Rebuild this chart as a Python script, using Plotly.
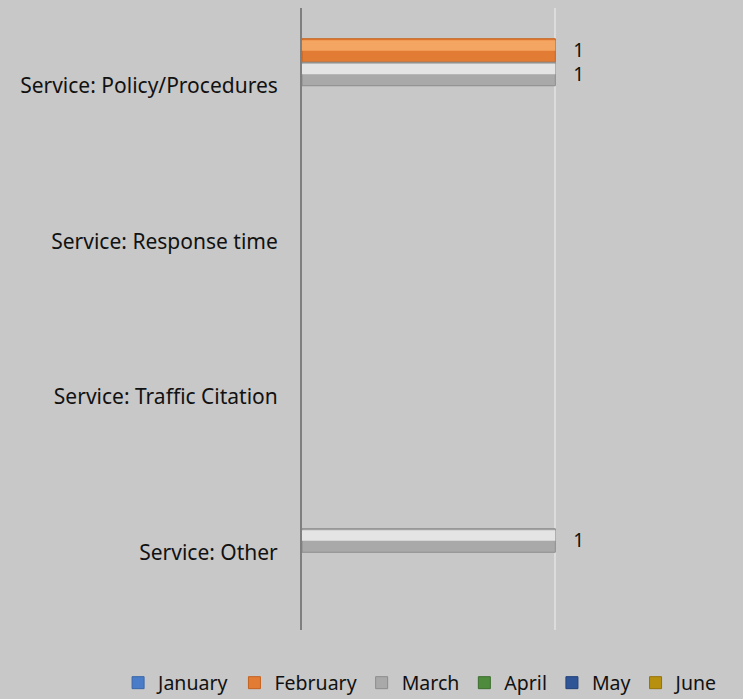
import plotly.graph_objects as go

# Complaint categories (top to bottom) and monthly counts
categories = [
    "Service: Policy/Procedures",
    "Service: Response time",
    "Service: Traffic Citation",
    "Service: Other",
]
months = ["January", "February", "March", "April", "May", "June"]

january = [None, None, None, None]
february = [1, None, None, None]
march = [1, None, None, 1]
april = [None, None, None, None]
may = [None, None, None, None]
june = [None, None, None, None]
series_values = [january, february, march, april, may, june]

# Per-month colours: body (lower shade), highlight (upper shade), outline
body_colors = ["#4A7DC9", "#E27B34", "#A9A9A9", "#4E8B3C", "#2F5597", "#B8900F"]
light_colors = ["#7BA3DE", "#F5A562", "#E4E4E4", "#7DB366", "#5779B8", "#DDB33A"]
edge_colors = ["#3A66A8", "#C4621F", "#8C8C8C", "#3D6E2F", "#22407A", "#957309"]

FONT = "Noto Sans"
TEXT = "#111111"
BG = "#C8C8C8"

n = len(months)
group_width = 0.907
bar_w = group_width / n

fig = go.Figure()

# main bars, grouped by hand so the highlight layer can sit on top
for i, (name, vals) in enumerate(zip(months, series_values)):
    off = -group_width / 2 + i * bar_w
    fig.add_trace(go.Bar(
        name=name,
        y=categories,
        x=vals,
        orientation="h",
        width=bar_w,
        offset=off,
        marker=dict(color=body_colors[i], line=dict(color=edge_colors[i], width=1)),
        texttemplate="\u00a0\u00a0\u00a0%{x}",
        textposition="outside",
        textfont=dict(family=FONT, size=19, color=TEXT),
        cliponaxis=False,
        constraintext="none",
        hoverinfo="name+x",
    ))

# lighter upper half of every bar for the bevelled look
for i, vals in enumerate(series_values):
    off = -group_width / 2 + i * bar_w
    fig.add_trace(go.Bar(
        y=categories,
        x=vals,
        orientation="h",
        width=bar_w * 0.45,
        offset=off + bar_w * 0.06,
        marker=dict(color=light_colors[i], line=dict(width=0)),
        showlegend=False,
        hoverinfo="skip",
    ))

fig.update_layout(
    width=743,
    height=699,
    barmode="overlay",
    paper_bgcolor=BG,
    plot_bgcolor=BG,
    margin=dict(l=302, r=61, t=8, b=69, autoexpand=False),
    font=dict(family=FONT, size=20, color=TEXT),
    xaxis=dict(
        range=[0, 1.5],
        tickvals=[1],
        showticklabels=False,
        showgrid=True,
        gridcolor="#DCDCDC",
        gridwidth=2,
        zeroline=False,
        showline=False,
        fixedrange=True,
    ),
    yaxis=dict(
        type="category",
        categoryorder="array",
        categoryarray=categories,
        autorange="reversed",
        showline=True,
        linecolor="#7F7F7F",
        linewidth=2,
        showgrid=False,
        ticks="",
        ticklabelstandoff=18,
        tickfont=dict(family=FONT, size=21, color=TEXT),
        fixedrange=True,
    ),
    legend=dict(
        orientation="h",
        x=-0.484,
        xanchor="left",
        y=-0.0852,
        yanchor="middle",
        font=dict(family=FONT, size=19.5, color=TEXT),
        bgcolor="rgba(0,0,0,0)",
        itemwidth=30,
    ),
    showlegend=True,
)

fig.write_html("out.html")
